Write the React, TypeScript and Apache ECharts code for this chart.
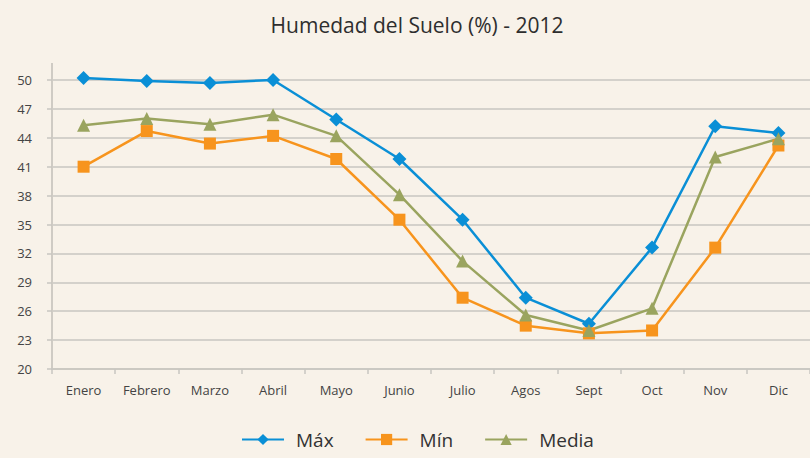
import React, { useEffect, useRef } from "react";
import * as echarts from "echarts";

const months = ["Enero", "Febrero", "Marzo", "Abril", "Mayo", "Junio", "Julio", "Agos", "Sept", "Oct", "Nov", "Dic"];
const maxValues = [50.2, 49.9, 49.7, 50.0, 45.9, 41.8, 35.5, 27.4, 24.7, 32.6, 45.2, 44.5];
const minValues = [41.0, 44.7, 43.4, 44.2, 41.8, 35.5, 27.4, 24.5, 23.7, 24.0, 32.6, 43.2];
const mediaValues = [45.3, 46.0, 45.4, 46.4, 44.2, 38.1, 31.2, 25.6, 24.0, 26.3, 42.0, 43.9];
const seriesNames = ["Máx", "Mín", "Media"];
const yMin = 20;
const yMax = 50;
const yStep = 3;

const FONT = "'Open Sans', 'Noto Sans', sans-serif";

export default function App() {
  const ref = useRef<HTMLDivElement>(null);
  useEffect(() => {
    document.body.style.margin = "0";
    if (!ref.current) return;
    const chart = echarts.init(ref.current, undefined, { renderer: "svg" });
    const mk = (name: string, data: number[], color: string, symbol: string, size: number) => ({
      name,
      type: "line",
      data,
      symbol,
      symbolSize: size,
      showAllSymbol: true,
      clip: false,
      lineStyle: { color, width: 2.5 },
      itemStyle: { color },
      z: 3,
    });
    chart.setOption({
      animation: false,
      backgroundColor: "#f8f2e9",
      textStyle: { fontFamily: FONT },
      title: {
        text: "Humedad del Suelo (%) - 2012",
        left: 412,
        textAlign: "center",
        top: 9,
        textStyle: { fontFamily: FONT, fontSize: 21, fontWeight: "normal", color: "#2e2e2e" },
      },
      legend: {
        bottom: 4,
        left: 236,
        itemWidth: 42,
        itemHeight: 14,
        itemGap: 31,
        textStyle: { fontFamily: FONT, fontSize: 19, color: "#333", padding: [0, 0, 0, 7] },
        data: seriesNames,
      },
      grid: { left: 52, top: 80, width: 760, bottom: 89, containLabel: false },
      xAxis: {
        type: "category",
        data: months,
        boundaryGap: true,
        axisLine: { show: true, lineStyle: { color: "#c9c6c0", width: 1.5 } },
        axisTick: { show: true, length: 5, lineStyle: { color: "#c9c6c0", width: 1.5 } },
        axisLabel: { fontFamily: FONT, fontSize: 13, color: "#444", margin: 14 },
      },
      yAxis: {
        type: "value",
        min: yMin,
        max: yMax,
        interval: yStep,
        axisLine: { show: true, lineStyle: { color: "#cfcbc4", width: 2 } },
        axisTick: { show: true, length: 5, lineStyle: { color: "#c9c6c0", width: 1.5 } },
        axisLabel: { fontFamily: FONT, fontSize: 13, color: "#444", margin: 20 },
        splitLine: { show: true, lineStyle: { color: "#c9c6c0", width: 1.5 } },
      },
      graphic: [
        {
          type: "line",
          shape: { x1: 52, y1: 63, x2: 52, y2: 81 },
          style: { stroke: "#cfcbc4", lineWidth: 2 },
        },
      ],
      series: [
        mk(seriesNames[0], maxValues, "#0a8fd6", "diamond", 14),
        mk(seriesNames[1], minValues, "#f7941d", "rect", 12),
        mk(seriesNames[2], mediaValues, "#9aa45f", "triangle", 13),
      ],
    });
    return () => chart.dispose();
  }, []);
  return <div ref={ref} style={{ position: "absolute", left: 0, top: 0, width: 810, height: 458 }} />;
}
